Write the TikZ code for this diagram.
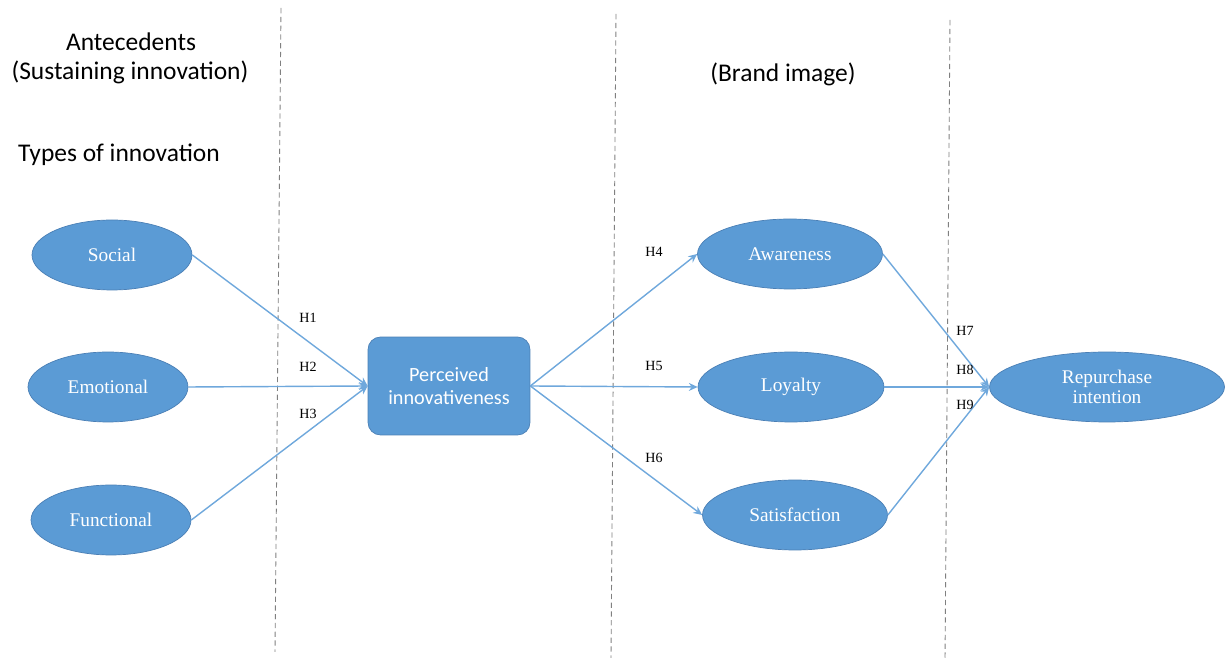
\documentclass[tikz,border=0pt]{standalone}
\usepackage{fontspec}
\setmainfont{Liberation Serif}
\newfontfamily\carlito{Carlito}
\usetikzlibrary{shapes.geometric,arrows.meta}
\definecolor{officeblue}{HTML}{5B9BD5}
\definecolor{edgeblue}{HTML}{4A7FB5}
\definecolor{lineblue}{HTML}{6FA8DC}
\tikzset{
	construct/.style={ellipse, draw=edgeblue, fill=officeblue, text=white, inner sep=0pt, minimum height=1.4cm, font=\fontsize{11}{12}\selectfont},
	mediator/.style={rectangle, rounded corners=0.25cm, draw=edgeblue, fill=officeblue, text=white, align=center, minimum width=3.24cm, minimum height=1.96cm, font=\carlito\fontsize{11.5}{13}\selectfont},
	link/.style={draw=lineblue, line width=0.8pt, -{Stealth[length=5pt,width=4.5pt]}},
	hyp/.style={font=\fontsize{8}{9}\selectfont, text=black, inner sep=1pt},
	heading/.style={font=\carlito\fontsize{14.5}{16}\selectfont, align=center, inner sep=0pt}
}
\newcommand{\stageline}[4] {
	\draw[color=gray, dash pattern=on 3pt off 2pt, line width=0.5pt] (#1,#2) -- (#3,#4);
}

\begin{document}
\begin{tikzpicture}[x=0.02cm, y=-0.02cm]
	\useasboundingbox (0,0) rectangle (1225,661);
	\stageline{281}{8}{275}{652}
	\stageline{616}{14}{611}{658}
	\stageline{950}{20}{945}{661}
	
	\node[heading] (antec) at (131,42) {Antecedents};
	\node[heading] (sustain) at (130,72) {(Sustaining innovation)};
	\node[heading] (types) at (119,155) {Types of innovation};
	\node[heading] (brand) at (783,74) {(Brand image)};
	
	\node[construct, minimum width=3.2cm] (social) at (112,255) {Social};
	\node[construct, minimum width=3.2cm] (emotional) at (108,387) {Emotional};
	\node[construct, minimum width=3.2cm] (functional) at (111,520) {Functional};
	\node[mediator] (perceived) at (449,386) {Perceived\\innovativeness};
	\node[construct, minimum width=3.7cm] (awareness) at (790,254) {Awareness};
	\node[construct, minimum width=3.72cm] (loyalty) at (791,387) {Loyalty};
	\node[construct, minimum width=3.7cm] (satisfaction) at (795,515) {Satisfaction};
	\node[construct, minimum width=4.7cm, align=center, font=\fontsize{11}{11}\selectfont] (repurchase) at (1107,387) {Repurchase\\intention};
	
	\draw[link] (social.east) -- (perceived.west);
	\draw[link] (emotional.east) -- (perceived.west);
	\draw[link] (functional.east) -- (perceived.west);
	\draw[link] (perceived.east) -- (awareness.west);
	\draw[link] (perceived.east) -- (loyalty.west);
	\draw[link] (perceived.east) -- (satisfaction.west);
	\draw[link] (awareness.east) -- (repurchase.west);
	\draw[link] (loyalty.east) -- (repurchase.west);
	\draw[link] (satisfaction.east) -- (repurchase.west);
	
	\node[hyp] (h1) at (308,318) {H1};
	\node[hyp] (h2) at (308,367) {H2};
	\node[hyp] (h3) at (308,414) {H3};
	\node[hyp] (h4) at (654,252) {H4};
	\node[hyp] (h5) at (654,366) {H5};
	\node[hyp] (h6) at (654,458) {H6};
	\node[hyp] (h7) at (965,331) {H7};
	\node[hyp] (h8) at (965,370) {H8};
	\node[hyp] (h9) at (965,405) {H9};
\end{tikzpicture}
\end{document}
